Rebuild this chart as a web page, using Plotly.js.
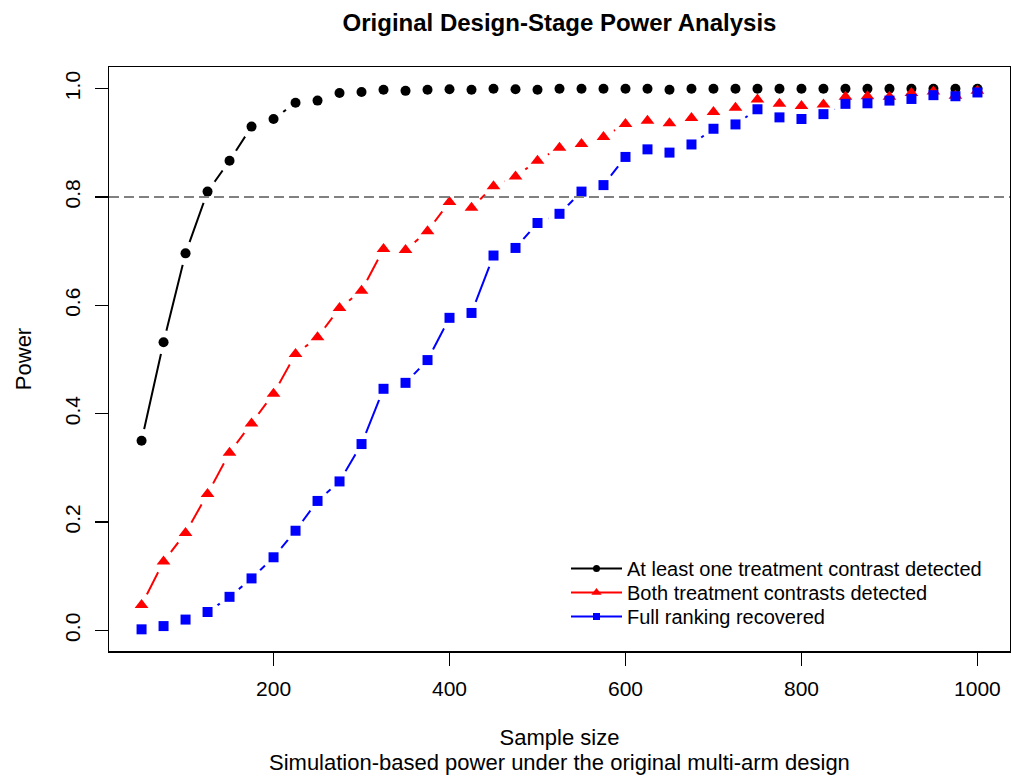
<!DOCTYPE html>
<html>
<head>
<meta charset="utf-8">
<script src="https://cdn.plot.ly/plotly-3.0.1.min.js"></script>
<style>html,body{margin:0;padding:0;background:#fff;}#chart{width:1011px;height:776px;}</style>
</head>
<body>
<div id="chart"></div>
<script>
// ---- data ----
const sampleSize = [50,75,100,125,150,175,200,225,250,275,300,325,350,375,400,425,450,475,500,525,550,575,600,625,650,675,700,725,750,775,800,825,850,875,900,925,950,975,1000];
const atLeastOne = [0.350,0.532,0.696,0.810,0.867,0.930,0.944,0.974,0.978,0.992,0.994,0.998,0.996,0.998,0.999,0.998,1.000,0.999,0.998,1.000,1.000,1.000,1.000,1.000,0.998,1.000,1.000,1.000,1.000,1.000,1.000,1.000,1.000,1.000,1.000,1.000,1.000,1.000,1.000];
const bothContrasts = [0.047,0.127,0.180,0.252,0.328,0.382,0.437,0.510,0.541,0.595,0.627,0.704,0.702,0.737,0.791,0.780,0.820,0.838,0.867,0.891,0.898,0.911,0.935,0.941,0.936,0.946,0.957,0.965,0.980,0.972,0.968,0.971,0.985,0.986,0.985,0.992,0.995,0.987,0.996];
const fullRanking = [0.002,0.008,0.020,0.034,0.062,0.096,0.135,0.184,0.239,0.275,0.344,0.446,0.457,0.499,0.577,0.586,0.692,0.706,0.752,0.769,0.810,0.822,0.874,0.888,0.882,0.897,0.926,0.934,0.962,0.947,0.944,0.953,0.972,0.973,0.978,0.981,0.988,0.986,0.993];
const seriesNames = ["At least one treatment contrast detected","Both treatment contrasts detected","Full ranking recovered"];
const xTicks = [200,400,600,800,1000];
const yTicks = [0.0,0.2,0.4,0.6,0.8,1.0];
const targetPower = 0.8;

// ---- styling ----
const FONT = "Liberation Sans, Arial, Helvetica, sans-serif";
const series = [
  {y: atLeastOne, name: seriesNames[0], color: "#000000", symbol: "circle", size: 10, lsize: 7, legend: "legend"},
  {y: bothContrasts, name: seriesNames[1], color: "#FF0000", symbol: "triangle-up", size: 12, lsize: 9, legend: "legend2"},
  {y: fullRanking, name: seriesNames[2], color: "#0000FF", symbol: "square", size: 10, lsize: 7, legend: "legend3"}
];

const traces = [];
// lines (R type="b": segments with gaps around points)
series.forEach(s => traces.push({
  type: "scatter", mode: "lines", x: sampleSize, y: s.y, name: s.name,
  line: {color: s.color, width: 2}, showlegend: false, hoverinfo: "skip"
}));
// white gaps around the points
series.forEach(s => traces.push({
  type: "scatter", mode: "markers", x: sampleSize, y: s.y,
  marker: {color: "#ffffff", symbol: "circle", size: 24},
  showlegend: false, hoverinfo: "skip"
}));
// points
series.forEach(s => traces.push({
  type: "scatter", mode: "markers", x: sampleSize, y: s.y, name: s.name,
  marker: {color: s.color, symbol: s.symbol, size: s.size},
  showlegend: false
}));
// legend entries (line with point, as in R's legend)
series.forEach(s => traces.push({
  type: "scatter", mode: "lines+markers", x: [null], y: [null], name: s.name,
  line: {color: s.color, width: 2},
  marker: {color: s.color, symbol: s.symbol, size: s.lsize},
  showlegend: true, legend: s.legend
}));

function legendAt(centerY) {
  return {x: (566-109)/901, xanchor: "left", y: (651-(centerY-20))/584, yanchor: "top",
          bgcolor: "rgba(0,0,0,0)", borderwidth: 0, itemwidth: 51,
          font: {family: FONT, size: 20, color: "#000"}};
}

const layout = {
  width: 1011, height: 776,
  margin: {l: 109, r: 1, t: 67, b: 125},
  paper_bgcolor: "#ffffff", plot_bgcolor: "#ffffff",
  font: {family: FONT, size: 20, color: "#000000"},
  title: {text: "<b>Original Design-Stage Power Analysis</b>", font: {family: FONT, size: 24, color: "#000"},
          x: 0.5, xref: "paper", xanchor: "center", y: 1 - 23/776, yref: "container", yanchor: "middle"},
  xaxis: {
    range: [13, 1037], tickvals: xTicks, ticktext: xTicks.map(String),
    showgrid: false, zeroline: false,
    showline: true, mirror: true, linecolor: "#000", linewidth: 1.5,
    ticks: "outside", ticklen: 13, tickwidth: 1.5, tickcolor: "#000",
    tickfont: {family: FONT, size: 21, color: "#000"}, ticklabelstandoff: 5,
    title: {text: "Sample size", font: {family: FONT, size: 22, color: "#000"}, standoff: 31}
  },
  yaxis: {
    range: [-0.038, 1.04], tickvals: yTicks, ticktext: yTicks.map(v => v.toFixed(1)),
    showgrid: false, zeroline: false,
    showline: true, mirror: true, linecolor: "#000", linewidth: 1.5,
    ticks: "outside", ticklen: 13, tickwidth: 1.5, tickcolor: "#000",
    tickangle: -90, tickfont: {family: FONT, size: 21, color: "#000"}, ticklabelstandoff: 6,
    title: {text: "Power", font: {family: FONT, size: 22, color: "#000"}, standoff: 23}
  },
  shapes: [{type: "line", xref: "paper", x0: 0, x1: 1, yref: "y", y0: targetPower, y1: targetPower,
            line: {color: "#808080", width: 1.8, dash: "10px,5px"}, layer: "above"}],
  annotations: [{text: "Simulation-based power under the original multi-arm design", xref: "paper", x: 0.5,
                 yref: "paper", y: -(762-651)/584, xanchor: "center", yanchor: "middle", showarrow: false,
                 font: {family: FONT, size: 22, color: "#000"}}],
  legend: legendAt(569),
  legend2: legendAt(593),
  legend3: legendAt(617),
  showlegend: true
};

Plotly.newPlot("chart", traces, layout, {displayModeBar: false, staticPlot: true});
</script>
</body>
</html>
